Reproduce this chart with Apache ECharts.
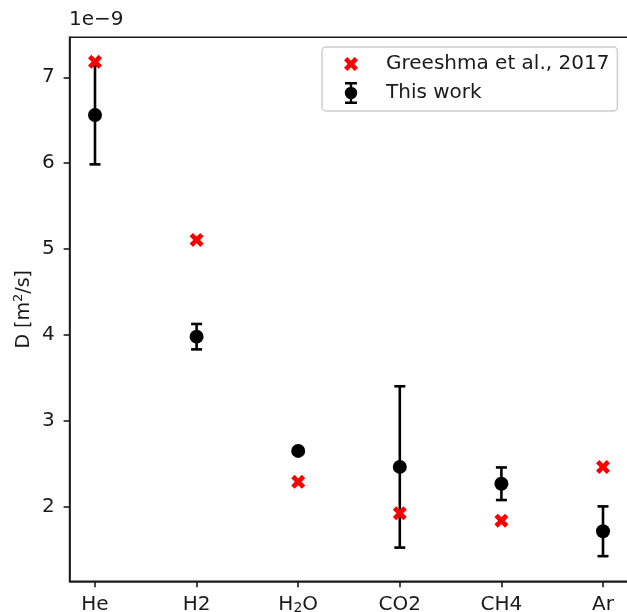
<!DOCTYPE html>
<html>
<head>
<meta charset="utf-8">
<script src="https://cdn.jsdelivr.net/npm/echarts@6/dist/echarts.min.js"></script>
<style>
  html, body { margin: 0; padding: 0; background: #fff; }
  #chart { width: 627px; height: 612px; }
</style>
</head>
<body>
<div id="chart"></div>
<script>
// Diffusion coefficients, in units of 1e-9 m^2/s
const gases = ['He', 'H2', 'H2O', 'CO2', 'CH4', 'Ar'];
const greeshma2017 = [7.18, 5.105, 2.285, 1.918, 1.832, 2.458];
const thisWork = [6.56, 3.977, 2.646, 2.459, 2.263, 1.709];
const thisWorkErr = [0.575, 0.148, 0.0, 0.94, 0.19, 0.29];
const yTicks = [2, 3, 4, 5, 6, 7];

const FONT = 'DejaVu Sans';
const INK = '#1a1a1a';
const FS = 20;

// filled "X" marker outline in a 10x10 box
const xPts = [[0,2.4],[2.4,0],[5,2.6],[7.6,0],[10,2.4],[7.4,5],[10,7.6],[7.6,10],[5,7.4],[2.4,10],[0,7.6],[2.6,5]];
function xPath(sx, sy, ox, oy) {
  return 'M' + xPts.map(p => (p[0] * sx + ox).toFixed(2) + ',' + (p[1] * sy + oy).toFixed(2)).join(' L') + ' Z';
}
const xSymbol = 'path://' + xPath(1, 1, 0, 0);
// legend icons share a 14x22 box; corner moves pin the bounds
const xLegendIcon = 'path://M0,0 M14,22 ' + xPath(1.4, 1.4, 0, 4);
const errLegendIcon = 'path://M1,0 H13 V2.4 H1 Z M1,19.6 H13 V22 H1 Z M5.8,2 H8.2 V20 H5.8 Z ' +
  'M0.8,11 A6.2,6.2 0 1,1 13.2,11 A6.2,6.2 0 1,1 0.8,11 Z';

const greeshmaData = gases.map((g, i) => [i, greeshma2017[i]]);
const workData = gases.map((g, i) => [i, thisWork[i]]);
const errData = gases.map((g, i) => [i, thisWork[i] - thisWorkErr[i], thisWork[i] + thisWorkErr[i]]);

function gasLabel(v) {
  const name = gases[Math.round(v)];
  if (name === 'H2O') return '{a|H}{s|2}{a|O}';
  return '{a|' + name + '}';
}

const chart = echarts.init(document.getElementById('chart'), null, { renderer: 'canvas' });

chart.setOption({
  animation: false,
  backgroundColor: '#fff',
  textStyle: { fontFamily: FONT, color: INK },
  grid: {
    left: 69.6, top: 37.3, width: 558.8, bottom: 30.7,
    containLabel: false, outerBoundsMode: 'none',
    show: true, borderColor: INK, borderWidth: 1.6, backgroundColor: 'transparent'
  },
  graphic: [{
    type: 'text', left: 69, top: 10,
    style: { text: '1e\u22129', font: FS + 'px "DejaVu Sans"', fill: INK }
  }],
  legend: {
    orient: 'vertical',
    left: 322, top: 47,
    padding: [6, 8, 7, 22],
    itemWidth: 14, itemHeight: 22, itemGap: 7,
    borderColor: '#cccccc', borderWidth: 1.4, borderRadius: 4,
    backgroundColor: 'rgba(255,255,255,0.8)',
    textStyle: { fontFamily: FONT, fontSize: FS, color: INK, padding: [0, 0, 0, 23] },
    selectedMode: false,
    data: [
      { name: 'Greeshma et al., 2017', icon: xLegendIcon },
      { name: 'This work', icon: errLegendIcon }
    ]
  },
  xAxis: {
    type: 'value',
    min: -0.25, max: 5.25,
    splitLine: { show: false },
    axisLine: { show: true, onZero: false, lineStyle: { color: INK, width: 1.6 } },
    axisTick: { show: true, length: 6, customValues: gases.map((g, i) => i), lineStyle: { color: INK, width: 1.6 } },
    axisLabel: {
      customValues: gases.map((g, i) => i),
      margin: 12,
      formatter: gasLabel,
      rich: {
        a: { fontFamily: FONT, fontSize: FS, color: INK, lineHeight: 23 },
        s: { fontFamily: FONT, fontSize: 14, color: INK, lineHeight: 15, padding: [8, 0, 0, 0] }
      }
    }
  },
  yAxis: {
    type: 'value',
    min: 1.126, max: 7.466,
    splitLine: { show: false },
    axisLine: { show: true, onZero: false, lineStyle: { color: INK, width: 1.6 } },
    axisTick: { show: true, length: 6, customValues: yTicks, lineStyle: { color: INK, width: 1.6 } },
    axisLabel: { customValues: yTicks, margin: 15, fontFamily: FONT, fontSize: FS, color: INK, formatter: v => String(Math.round(v)) },
    name: '{a|D [m}{s|2}{a|/s]}',
    nameLocation: 'middle',
    nameGap: 35,
    nameMoveOverlap: false,
    nameRotate: 90,
    nameTextStyle: {
      rich: {
        a: { fontFamily: FONT, fontSize: 19, color: INK, lineHeight: 22 },
        s: { fontFamily: FONT, fontSize: 13, color: INK, lineHeight: 13, padding: [0, 0, 10, 0] }
      }
    }
  },
  series: [
    {
      name: 'This work',
      type: 'custom',
      z: 2,
      data: errData,
      encode: { x: 0, y: [1, 2] },
      renderItem: function (params, api) {
        const x = api.value(0);
        const lo = api.coord([x, api.value(1)]);
        const hi = api.coord([x, api.value(2)]);
        const cap = 5.5;
        const st = { stroke: '#000', lineWidth: 2.6 };
        return {
          type: 'group',
          children: [
            { type: 'line', shape: { x1: lo[0], y1: lo[1], x2: hi[0], y2: hi[1] }, style: st },
            { type: 'line', shape: { x1: lo[0] - cap, y1: lo[1], x2: lo[0] + cap, y2: lo[1] }, style: st },
            { type: 'line', shape: { x1: hi[0] - cap, y1: hi[1], x2: hi[0] + cap, y2: hi[1] }, style: st }
          ]
        };
      },
      itemStyle: { color: '#000' }
    },
    {
      name: 'This work',
      type: 'scatter',
      z: 3,
      symbol: 'circle',
      symbolSize: 14,
      itemStyle: { color: '#000', opacity: 1 },
      data: workData
    },
    {
      name: 'Greeshma et al., 2017',
      type: 'scatter',
      z: 4,
      symbol: xSymbol,
      symbolSize: 14,
      itemStyle: { color: '#ff0000', opacity: 1 },
      data: greeshmaData
    }
  ]
});
</script>
</body>
</html>
